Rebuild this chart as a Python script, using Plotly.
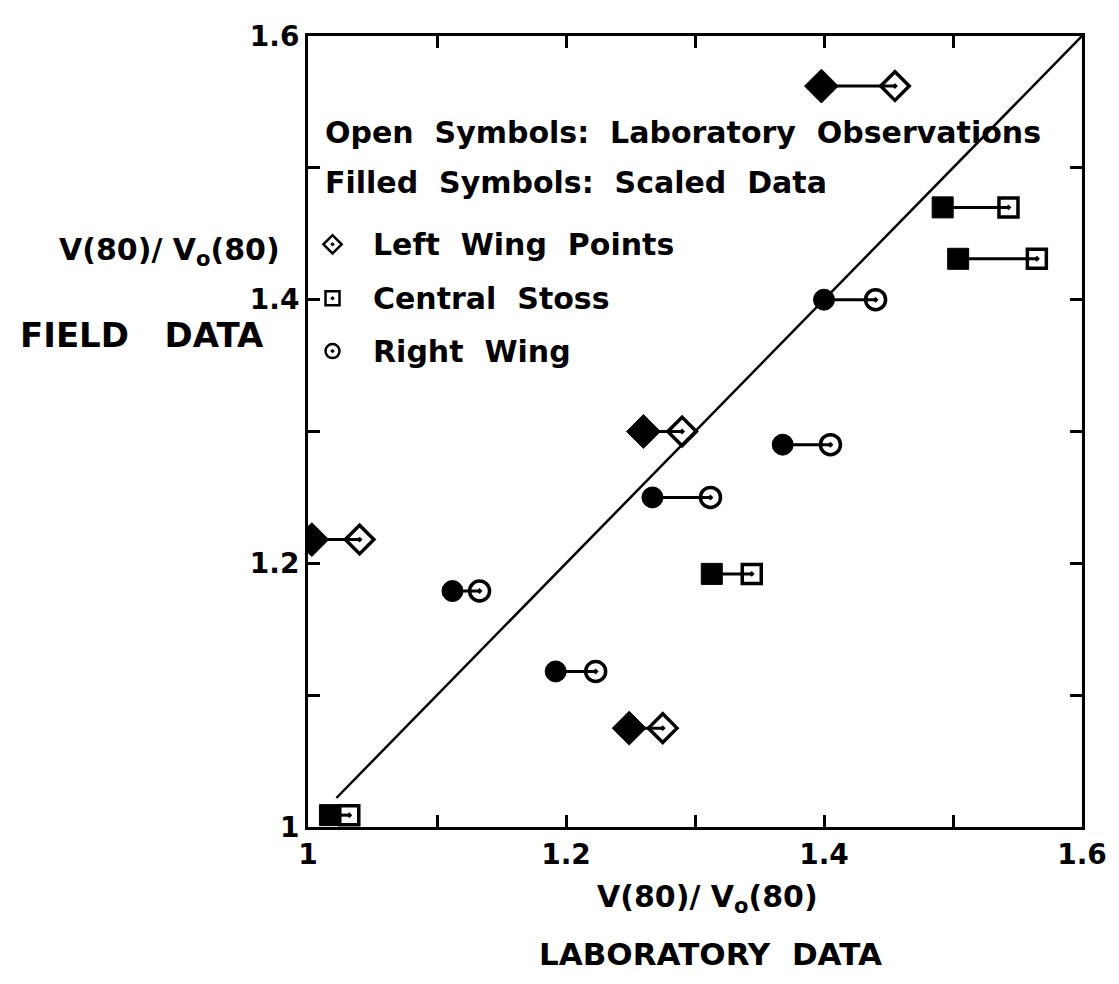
import plotly.graph_objects as go

# Left Wing Points (diamonds): y, scaled (filled) x, laboratory (open) x
lw_y = [1.562, 1.300, 1.218, 1.075]
lw_scaled = [1.398, 1.260, 1.003, 1.249]
lw_lab = [1.455, 1.290, 1.040, 1.275]

# Central Stoss (squares)
cs_y = [1.470, 1.431, 1.192, 1.009]
cs_scaled = [1.492, 1.504, 1.313, 1.017]
cs_lab = [1.543, 1.565, 1.344, 1.032]

# Right Wing (circles)
rw_y = [1.400, 1.290, 1.250, 1.179, 1.118]
rw_scaled = [1.400, 1.368, 1.267, 1.112, 1.192]
rw_lab = [1.440, 1.405, 1.312, 1.133, 1.223]

diag_x = [1.022, 1.6]
diag_y = [1.022, 1.6]

tick_vals = [1.0, 1.1, 1.2, 1.3, 1.4, 1.5, 1.6]
tick_text = ["1", "", "1.2", "", "1.4", "", "1.6"]

legend_lines = [
    "Open  Symbols:  Laboratory  Observations",
    "Filled  Symbols:  Scaled  Data",
]
legend_series = ["Left  Wing  Points", "Central  Stoss", "Right  Wing"]
legend_symbols = ["diamond-open-dot", "square-open-dot", "circle-open-dot"]

FONT = "DejaVu Sans"
fig = go.Figure()

# diagonal reference line
fig.add_trace(go.Scatter(x=diag_x, y=diag_y, mode="lines",
                         line=dict(color="black", width=2.5), showlegend=False,
                         hoverinfo="skip"))


def add_group(ys, xs_f, xs_o, sym, size_f, size_o):
    lx, ly = [], []
    for y, xf, xo in zip(ys, xs_f, xs_o):
        lx += [xf, xo, None]
        ly += [y, y, None]
    fig.add_trace(go.Scatter(x=lx, y=ly, mode="lines",
                             line=dict(color="black", width=3),
                             showlegend=False, hoverinfo="skip"))
    fig.add_trace(go.Scatter(x=xs_o, y=ys, mode="markers",
                             marker=dict(symbol=sym + "-open-dot", size=size_o,
                                         color="black",
                                         line=dict(color="black", width=3.5)),
                             showlegend=False))
    fig.add_trace(go.Scatter(x=xs_f, y=ys, mode="markers",
                             marker=dict(symbol=sym, size=size_f, color="black",
                                         line=dict(color="black", width=1)),
                             showlegend=False))


add_group(lw_y, lw_scaled, lw_lab, "diamond", 26, 22)
add_group(cs_y, cs_scaled, cs_lab, "square", 21, 19)
add_group(rw_y, rw_scaled, rw_lab, "circle", 21, 20)

# in-plot legend
leg_ys = [1.442, 1.401, 1.361]
fig.add_trace(go.Scatter(x=[1.019] * 3, y=leg_ys, mode="markers",
                         marker=dict(symbol=legend_symbols, size=14, color="black",
                                     line=dict(color="black", width=2.5)),
                         showlegend=False, hoverinfo="skip"))

LEG_FONT = dict(family=FONT, size=30, color="black", weight="bold")
annotations = []
for txt, yy in zip(legend_lines, [1.527, 1.489]):
    annotations.append(dict(x=1.012, y=yy, xref="x", yref="y", text=txt,
                            showarrow=False, xanchor="left", yanchor="middle",
                            font=LEG_FONT))
for txt, yy in zip(legend_series, leg_ys):
    annotations.append(dict(x=1.049, y=yy, xref="x", yref="y", text=txt,
                            showarrow=False, xanchor="left", yanchor="middle",
                            font=LEG_FONT))

vlabel = "V(80)/ V<sub>o</sub>(80)"
annotations += [
    dict(x=-0.179, y=0.728, xref="paper", yref="paper", text=vlabel, showarrow=False,
         xanchor="center", yanchor="middle",
         font=dict(family=FONT, size=30, color="black", weight="bold")),
    dict(x=-0.214, y=0.622, xref="paper", yref="paper", text="FIELD   DATA", showarrow=False,
         xanchor="center", yanchor="middle",
         font=dict(family=FONT, size=34, color="black", weight="bold")),
    dict(x=0.516, y=-0.09, xref="paper", yref="paper", text=vlabel, showarrow=False,
         xanchor="center", yanchor="middle",
         font=dict(family=FONT, size=30, color="black", weight="bold")),
    dict(x=0.52, y=-0.16, xref="paper", yref="paper", text="LABORATORY  DATA", showarrow=False,
         xanchor="center", yanchor="middle",
         font=dict(family=FONT, size=31, color="black", weight="bold")),
]

axis_common = dict(
    tickmode="array", tickvals=tick_vals, ticktext=tick_text,
    ticks="inside", ticklen=12, tickwidth=2.5, tickcolor="black",
    showline=True, linecolor="black", linewidth=3, mirror="ticks",
    showgrid=False, zeroline=False,
    tickfont=dict(family=FONT, size=28, color="black", weight="bold"),
)

fig.update_layout(
    width=1111, height=968,
    margin=dict(l=300, r=31, t=18, b=149),
    plot_bgcolor="white", paper_bgcolor="white",
    showlegend=False,
    annotations=annotations,
    xaxis=dict(range=[1.0, 1.6], **axis_common),
    yaxis=dict(range=[1.0, 1.6], **axis_common),
)

fig.write_html("out.html", config={"displayModeBar": False})
